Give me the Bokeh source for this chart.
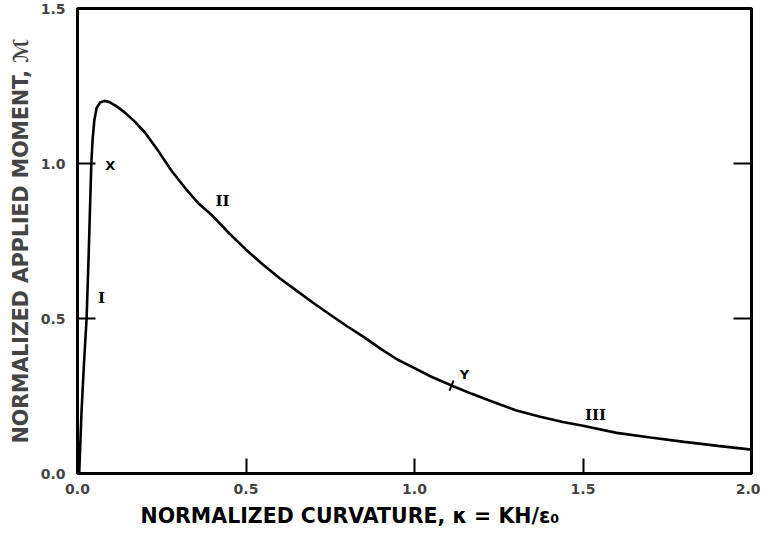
from bokeh.plotting import figure
from bokeh.models import Range1d, LinearAxis, FixedTicker, ColumnDataSource, Title
from bokeh.core.properties import value
from bokeh.embed import file_html
from bokeh.resources import INLINE

# curve: normalized curvature vs normalized applied moment
curv = [0.005, 0.012, 0.019, 0.027, 0.033, 0.037, 0.041, 0.045, 0.050, 0.057,
        0.067, 0.080, 0.095, 0.115, 0.14, 0.17, 0.20, 0.24, 0.28, 0.32,
        0.36, 0.40, 0.45, 0.50, 0.55, 0.60, 0.65, 0.70, 0.75, 0.80,
        0.85, 0.90, 0.95, 1.00, 1.05, 1.11, 1.17, 1.23, 1.30, 1.37,
        1.44, 1.50, 1.60, 1.70, 1.80, 1.90, 2.0]
moment = [0.0, 0.2, 0.35, 0.5, 0.7, 0.85, 1.0, 1.08, 1.14, 1.18,
          1.197, 1.202, 1.198, 1.185, 1.165, 1.135, 1.1, 1.04, 0.975, 0.92,
          0.87, 0.832, 0.775, 0.722, 0.674, 0.63, 0.59, 0.55, 0.512, 0.475,
          0.44, 0.402, 0.367, 0.34, 0.312, 0.284, 0.257, 0.232, 0.204, 0.184,
          0.166, 0.154, 0.131, 0.116, 0.102, 0.089, 0.077]

# point marker Y on the curve
mark_x = [1.11]
mark_y = [0.284]

# annotations
annot_x = [0.071, 0.43, 1.537]
annot_y = [0.565, 0.88, 0.19]
annot_text = ["I", "II", "III"]
pt_x = [0.097, 1.148]
pt_y = [0.994, 0.318]
pt_text = ["X", "Y"]

x_ticks = [0.0, 0.5, 1.0, 1.5, 2.0]
y_ticks = [0.0, 0.5, 1.0, 1.5]
right_ticks = [0.5, 1.0]

x_title = "NORMALIZED CURVATURE, κ = KH/ε₀"
y_title = "NORMALIZED APPLIED MOMENT, ℳ"

FONT = "DejaVu Sans"

p = figure(width=760, height=535, x_range=Range1d(0, 2), y_range=Range1d(0, 1.5),
           output_backend="svg", toolbar_location=None,
           min_border_left=77, min_border_right=9, min_border_top=8, min_border_bottom=62)
p.grid.visible = False
p.outline_line_color = "black"
p.outline_line_width = 3
p.background_fill_color = "white"
p.border_fill_color = "white"

xa = p.xaxis[0]
xa.ticker = FixedTicker(ticks=x_ticks)
xa.major_label_overrides = {t: f"{t:.1f}" for t in x_ticks}
xa.major_tick_in = 15
xa.major_tick_out = 0
xa.minor_tick_in = 0
xa.minor_tick_out = 0
xa.axis_line_width = 3
xa.major_tick_line_width = 2
xa.major_label_standoff = 10
xa.major_label_text_font = FONT
xa.major_label_text_font_style = "bold"
xa.major_label_text_font_size = "14px"

ya = p.yaxis[0]
ya.ticker = FixedTicker(ticks=y_ticks)
ya.major_label_overrides = {t: f"{t:.1f}" for t in y_ticks}
ya.major_tick_in = 18
ya.major_tick_out = 0
ya.minor_tick_in = 0
ya.minor_tick_out = 0
ya.axis_line_width = 3
ya.major_tick_line_width = 2
ya.major_label_standoff = 12
ya.major_label_text_font = FONT
ya.major_label_text_font_style = "bold"
ya.major_label_text_font_size = "14px"
ya.axis_label = y_title
ya.axis_label_text_font = FONT
ya.axis_label_text_font_style = "bold"
ya.axis_label_text_font_size = "20.5px"
ya.axis_label_standoff = 5

ra = LinearAxis(ticker=FixedTicker(ticks=right_ticks))
ra.major_tick_in = 18
ra.major_tick_out = 0
ra.minor_tick_in = 0
ra.minor_tick_out = 0
ra.axis_line_width = 3
ra.major_tick_line_width = 2
ra.major_label_text_alpha = 0
ra.major_label_text_font_size = "1px"
ra.major_label_standoff = 0
p.add_layout(ra, "right")

p.add_layout(Title(text=x_title, align="left", offset=63, standoff=10,
                   text_font=FONT, text_font_style="bold", text_font_size="20.5px",
                   text_color="black"), "below")

p.line(curv, moment, line_color="black", line_width=2.6)
p.scatter(mark_x, mark_y, marker="dash", size=11, angle=1.18, line_color="black", line_width=2)

src_a = ColumnDataSource(dict(x=annot_x, y=annot_y, t=annot_text))
p.text("x", "y", text="t", source=src_a, text_font=value("DejaVu Serif"), text_font_style="bold",
       text_font_size="15px", text_align="center", text_baseline="middle", text_color="black")
src_p = ColumnDataSource(dict(x=pt_x, y=pt_y, t=pt_text))
p.text("x", "y", text="t", source=src_p, text_font=value(FONT), text_font_style="bold",
       text_font_size="13px", text_align="center", text_baseline="middle", text_color="black")

open("out.html", "w").write(file_html(p, INLINE))
